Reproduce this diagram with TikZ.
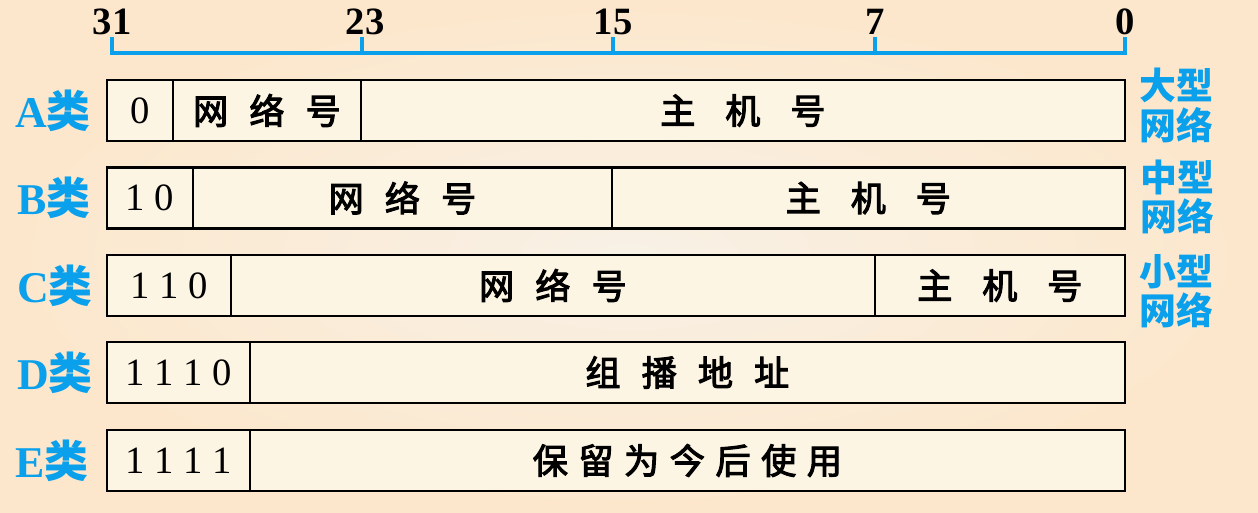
\documentclass[tikz,border=0pt]{standalone}
\usepackage{fontspec}
\setmainfont{Liberation Serif}
\newfontfamily\cjk{Noto Sans CJK SC}
\newfontfamily\cjkm[FakeBold=3]{Noto Sans CJK SC}
\usetikzlibrary{positioning}
\definecolor{netblue}{RGB}{10,160,236}
\definecolor{boxfill}{RGB}{253,245,228}
\definecolor{bgin}{RGB}{248,241,230}
\definecolor{bgout}{RGB}{252,231,204}
\newcommand{\gap}[1]{\hspace{#1em}}

\begin{document}
\begin{tikzpicture}[
    x=0.02cm, y=-0.02cm,
    field/.style={draw, line width=1.3pt, fill=boxfill, minimum height=1.22cm,
                  inner sep=0pt, outer sep=0pt, anchor=west,
                  font=\fontsize{22}{26}\selectfont},
    cjktext/.style={font=\cjkm\fontsize{20}{24}\selectfont},
    bitno/.style={font=\bfseries\fontsize{22}{26}\selectfont, inner sep=0pt},
    classlbl/.style={anchor=east, inner sep=0pt, text=netblue,
                     font=\bfseries\fontsize{25}{28}\selectfont},
    sizelbl/.style={align=center, inner sep=0pt, text=netblue,
                    font=\cjk\bfseries\fontsize{21}{22.5}\selectfont},
    ruler/.style={netblue, line width=2.8pt}
]
    \useasboundingbox (0,0) rectangle (1258,512);
    \shade[inner color=bgin, outer color=bgout] (0,0) rectangle (1258,512);

    % bit ruler
    \node[bitno] (b31) at (112,22) {31};
    \node[bitno] (b23) at (365,22) {23};
    \node[bitno] (b15) at (613,22) {15};
    \node[bitno] (b7)  at (875,22) {7};
    \node[bitno] (b0)  at (1125,22) {0};
    \draw[ruler] (112,37) -- (112,53) -- (1125,53) -- (1125,37);
    \foreach \x in {362,613,875}
        \draw[ruler] (\x,53) -- (\x,37);

    % class A
    \node[field, minimum width=1.32cm] (a1) at (107,110.5) {0};
    \node[field, cjktext, minimum width=3.76cm, right=0pt of a1] (a2) {网\gap{0.6}络\gap{0.6}号};
    \node[field, cjktext, minimum width=15.28cm, right=0pt of a2] (a3) {主\gap{0.85}机\gap{0.85}号};

    % class B
    \node[field, minimum width=1.72cm] (bb1) at (107,198) {1 0};
    \node[field, cjktext, minimum width=8.38cm, right=0pt of bb1] (bb2) {网\gap{0.6}络\gap{0.6}号};
    \node[field, cjktext, minimum width=10.26cm, right=0pt of bb2] (bb3) {主\gap{0.85}机\gap{0.85}号};

    % class C
    \node[field, minimum width=2.48cm] (c1) at (107,285.5) {1 1 0};
    \node[field, cjktext, minimum width=12.88cm, right=0pt of c1] (c2) {网\gap{0.6}络\gap{0.6}号};
    \node[field, cjktext, minimum width=5cm, right=0pt of c2] (c3) {主\gap{0.85}机\gap{0.85}号};

    % class D
    \node[field, minimum width=2.86cm] (d1) at (107,372.5) {1 1 1 0};
    \node[field, cjktext, minimum width=17.5cm, right=0pt of d1] (d2) {组\gap{0.6}播\gap{0.6}地\gap{0.6}址};

    % class E
    \node[field, minimum width=2.86cm] (e1) at (107,460.5) {1 1 1 1};
    \node[field, cjktext, minimum width=17.5cm, right=0pt of e1] (e2) {保\gap{0.3}留\gap{0.3}为\gap{0.3}今\gap{0.3}后\gap{0.3}使\gap{0.3}用};

    % class names
    \node[classlbl] (ka) at (91,110.5) {A{\cjk 类}};
    \node[classlbl] (kb) at (91,198)   {B{\cjk 类}};
    \node[classlbl] (kc) at (93,285.5) {C{\cjk 类}};
    \node[classlbl] (kd) at (93,372.5) {D{\cjk 类}};
    \node[classlbl] (ke) at (89,460.5) {E{\cjk 类}};

    % network sizes
    \node[sizelbl] (sa) at (1176,105.5) {大型\\网络};
    \node[sizelbl] (sb) at (1177,197)   {中型\\网络};
    \node[sizelbl] (sc) at (1176,291)   {小型\\网络};
\end{tikzpicture}
\end{document}
